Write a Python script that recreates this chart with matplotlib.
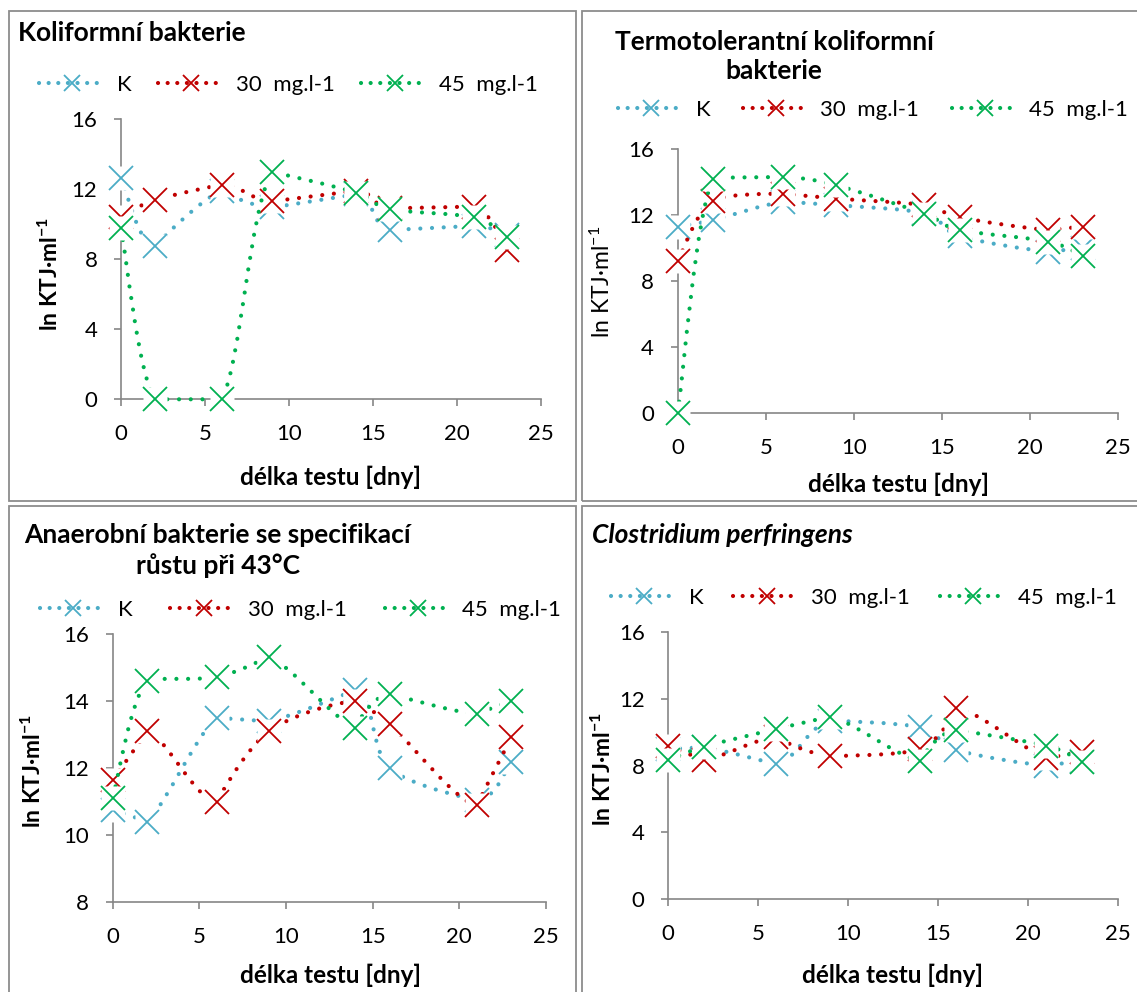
import numpy as np
import matplotlib
matplotlib.use("Agg")
import matplotlib.pyplot as plt
from matplotlib.path import Path
from matplotlib.patches import PathPatch, Rectangle
from matplotlib.lines import Line2D

plt.rcParams['font.family'] = ['Lato', 'DejaVu Sans']
plt.rcParams['mathtext.fontset'] = 'custom'
plt.rcParams['mathtext.rm'] = 'Lato'
plt.rcParams['mathtext.bf'] = 'Lato:bold'
plt.rcParams['mathtext.it'] = 'Lato:italic'

# --- data (ln KTJ/ml) ---
days = [0, 2, 6, 9, 14, 16, 21, 23]
series_names = ['K', '30  mg.l-1', '45  mg.l-1']

koli_k = [12.66, 8.74, 11.9, 10.95, 11.7, 9.66, 9.9, 9.4]
koli_30 = [10.42, 11.37, 12.26, 11.3, 11.9, 10.9, 11.0, 8.55]
koli_45 = [9.75, 0, 0, 12.98, 11.8, 10.86, 10.38, 9.28]

termo_k = [11.3, 11.7, 12.8, 12.6, 12.1, 10.73, 9.79, 9.99]
termo_30 = [9.22, 12.85, 13.3, 13.0, 12.6, 11.86, 11.1, 11.3]
termo_45 = [0, 14.2, 14.3, 13.8, 12.07, 11.1, 10.4, 9.5]

anaer_k = [10.76, 10.41, 13.51, 13.4, 14.34, 12.0, 11.05, 12.2]
anaer_30 = [11.65, 13.11, 11.0, 13.1, 14.0, 13.31, 10.9, 12.92]
anaer_45 = [11.12, 14.62, 14.72, 15.33, 13.21, 14.22, 13.62, 14.02]

clos_k = [9.0, 9.1, 8.08, 10.7, 10.3, 8.94, 8.0, 8.3]
clos_30 = [9.15, 8.35, 9.7, 8.58, 9.0, 11.44, 8.45, 8.84]
clos_45 = [8.34, 9.14, 10.2, 10.94, 8.3, 10.14, 9.2, 8.24]

colors = ['#4BACC6', '#C00000', '#00B050']
W, H = 1137, 992
GRAY = '#868686'
TITLE_FS = 19
LABEL_FS = 17.5
LEGEND_FS = 16


def fx(px):
    return px / W


def fy(py):
    return 1 - py / H


def fit(base, off, lo, hi):
    # shrink a control offset so the curve does not overshoot the segment
    y = base[1] + off[1]
    s = 1.0
    if off[1] != 0:
        if y > hi:
            s = (hi - base[1]) / off[1]
        elif y < lo:
            s = (lo - base[1]) / off[1]
    return base + off * max(s, 0.0)


def smooth_path(ax, xs, ys, f=1 / 6):
    p = ax.transData.transform(np.column_stack([xs, ys]))
    n = len(p)
    verts = [p[0]]
    for i in range(n - 1):
        a, b, c, d = p[max(i - 1, 0)], p[i], p[i + 1], p[min(i + 2, n - 1)]
        lo, hi = sorted((b[1], c[1]))
        c1 = fit(b, (c - a) * f, lo, hi)
        c2 = fit(c, -(d - b) * f, lo, hi)
        verts += [c1, c2, c]
    codes = [Path.MOVETO] + [Path.CURVE4] * (3 * (n - 1))
    verts = ax.transData.inverted().transform(np.array(verts))
    return Path(verts, codes)


def panel(box, ylim, yticks, data):
    x0, x1, ytop, ybot = box
    ax = fig.add_axes([fx(x0), fy(ybot), fx(x1 - x0), (ybot - ytop) / H])
    ax.set_xlim(0, 25)
    ax.set_ylim(*ylim)
    ax.set_xticks([0, 5, 10, 15, 20, 25])
    ax.set_yticks(yticks)
    for s in ['top', 'right']:
        ax.spines[s].set_visible(False)
    for s in ['left', 'bottom']:
        ax.spines[s].set_color(GRAY)
        ax.spines[s].set_linewidth(1.2)
    ax.tick_params(direction='out', length=5, width=1.2, color=GRAY, labelsize=16)
    ax.tick_params(axis='x', pad=13)
    ax.tick_params(axis='y', pad=12)
    ax.patch.set_alpha(0)
    for k, (vals, col) in enumerate(zip(data, colors)):
        path = smooth_path(ax, days, vals)
        ax.add_patch(PathPatch(path, fill=False, ec=col, lw=3,
                               linestyle=(0, (0.01, 2.8)), capstyle='round',
                               zorder=2 + 3 * k, clip_on=False))
        ax.plot(days, vals, ls='none', marker='s', ms=17, mfc='white', mec='none',
                zorder=3 + 3 * k, clip_on=False)
        ax.plot(days, vals, ls='none', marker='x', ms=17, mew=1.3, color=col,
                zorder=4 + 3 * k, clip_on=False)
    return ax


def add_legend(ax, x_left, y_mid, colspace):
    handles = [Line2D([], [], color=c, lw=3, ls=(0, (0.01, 2.3)), dash_capstyle='round',
                      marker='x', ms=11, mew=1.3) for c in colors]
    ax.legend(handles, series_names, ncol=3, frameon=False, fontsize=LEGEND_FS,
              loc='center left', bbox_to_anchor=(fx(x_left), fy(y_mid)),
              bbox_transform=fig.transFigure, borderpad=0, borderaxespad=0,
              handlelength=3.0, handletextpad=0.5, columnspacing=colspace, numpoints=1)


fig = plt.figure(figsize=(W / 100, H / 100), dpi=100)

# panel frames
for (l, t, r, b) in [(8.5, 11, 575.5, 500.5), (581.5, 11, 1150, 500.5),
                     (8.5, 506, 575.5, 1005), (581.5, 506, 1150, 1005)]:
    fig.add_artist(Rectangle((fx(l), fy(b)), fx(r - l), (b - t) / H, transform=fig.transFigure,
                             fill=False, ec='#8C8C8C', lw=1.3))

ax1 = panel((121, 541, 119, 399.3), (0, 16), [0, 4, 8, 12, 16], [koli_k, koli_30, koli_45])
ax2 = panel((677.7, 1118.3, 149, 413.3), (0, 16), [0, 4, 8, 12, 16], [termo_k, termo_30, termo_45])
ax3 = panel((112.7, 546, 634.3, 902.3), (8, 16), [8, 10, 12, 14, 16], [anaer_k, anaer_30, anaer_45])
ax4 = panel((668.3, 1118.3, 632.3, 899), (0, 16), [0, 4, 8, 12, 16], [clos_k, clos_30, clos_45])

add_legend(ax1, 39, 85, 1.2)
add_legend(ax2, 618, 110, 1.45)
add_legend(ax3, 40, 610, 1.7)
add_legend(ax4, 611, 598, 1.35)

# titles
fig.text(fx(18.5), fy(33), 'Koliformní bakterie', fontsize=TITLE_FS, fontweight='bold', va='center')
fig.text(fx(774), fy(56.5), 'Termotolerantní koliformní\nbakterie', fontsize=TITLE_FS,
         fontweight='bold', ha='center', va='center', linespacing=1.25)
fig.text(fx(217.5), fy(550.5), 'Anaerobní bakterie se specifikací\nrůstu při 43°C', fontsize=TITLE_FS,
         fontweight='bold', ha='center', va='center', linespacing=1.25)
fig.text(fx(592), fy(535), 'Clostridium perfringens', fontsize=TITLE_FS, fontweight='bold',
         fontstyle='italic', va='center')

# axis labels
for x, y in [(330, 477), (898, 484), (330, 975), (892, 975)]:
    fig.text(fx(x), fy(y), 'délka testu [dny]', fontsize=LABEL_FS, fontweight='bold',
             ha='center', va='center')
ylab_bold = 'ln KTJ·ml$^{\\mathbf{-1}}$'
ylab_reg = 'ln KTJ·ml$^{-1}$'
fig.text(fx(50), fy(274), ylab_bold, fontsize=16.5, fontweight='bold', rotation=90,
         ha='center', va='center')
fig.text(fx(602), fy(282), ylab_reg, fontsize=16.5, rotation=90, ha='center', va='center')
fig.text(fx(33), fy(771), ylab_bold, fontsize=16.5, fontweight='bold', rotation=90,
         ha='center', va='center')
fig.text(fx(603), fy(769), ylab_bold, fontsize=16.5, fontweight='bold', rotation=90,
         ha='center', va='center')

fig.savefig('out.png', dpi=100)
